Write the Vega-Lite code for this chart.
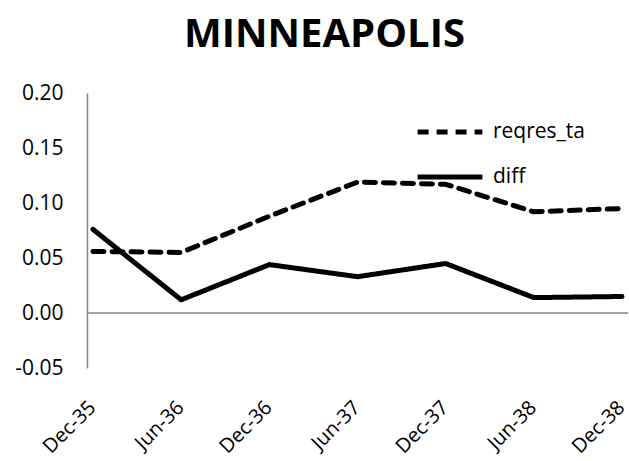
{
  "$schema": "https://vega.github.io/schema/vega-lite/v6.json",
  "width": 541,
  "height": 275,
  "autosize": {"type": "none"},
  "padding": {"left": 87, "top": 93, "right": 1, "bottom": 93},
  "background": "white",
  "config": {"view": {"stroke": null}, "font": "Open Sans"},
  "title": {"text": "MINNEAPOLIS", "fontSize": 40, "fontWeight": "bold", "font": "Open Sans", "color": "#000000", "anchor": "middle", "frame": "group", "offset": 27, "dx": -33},
  "data": {"values": [
    {"date": "Dec-35", "series": "reqres_ta", "value": 0.056},
    {"date": "Jun-36", "series": "reqres_ta", "value": 0.055},
    {"date": "Dec-36", "series": "reqres_ta", "value": 0.088},
    {"date": "Jun-37", "series": "reqres_ta", "value": 0.119},
    {"date": "Dec-37", "series": "reqres_ta", "value": 0.117},
    {"date": "Jun-38", "series": "reqres_ta", "value": 0.092},
    {"date": "Dec-38", "series": "reqres_ta", "value": 0.095},
    {"date": "Dec-35", "series": "diff", "value": 0.076},
    {"date": "Jun-36", "series": "diff", "value": 0.012},
    {"date": "Dec-36", "series": "diff", "value": 0.044},
    {"date": "Jun-37", "series": "diff", "value": 0.033},
    {"date": "Dec-37", "series": "diff", "value": 0.045},
    {"date": "Jun-38", "series": "diff", "value": 0.014},
    {"date": "Dec-38", "series": "diff", "value": 0.015}
  ]},
  "layer": [
    {
      "mark": {"type": "rule", "color": "#868686", "strokeWidth": 1.5},
      "data": {"values": [{"z": 0}]},
      "encoding": {"y": {"field": "z", "type": "quantitative", "scale": {"domain": [-0.05, 0.2]}}}
    },
    {
      "mark": {"type": "line", "strokeWidth": 5, "strokeCap": "round", "strokeJoin": "round", "color": "#000000"},
      "encoding": {
        "x": {"field": "date", "type": "ordinal", "sort": null,
              "scale": {"type": "point", "padding": 0.068},
              "axis": {"title": null, "labelAngle": -45, "labelFontSize": 20, "labelFont": "Open Sans", "labelColor": "#000000", "domain": false, "ticks": false, "labelPadding": 29, "labelOffset": -8, "labelBound": false}},
        "y": {"field": "value", "type": "quantitative",
              "scale": {"domain": [-0.05, 0.2], "nice": false, "zero": false},
              "axis": {"title": null, "values": [-0.05, 0, 0.05, 0.1, 0.15, 0.2], "format": ".2f", "labelExpr": "replace(datum.label, '\u2212', '-')", "labelFontSize": 21, "labelFont": "Open Sans", "labelColor": "#000000", "grid": false, "ticks": false, "domainColor": "#868686", "domainWidth": 1.5, "labelPadding": 24}},
        "strokeDash": {"field": "series", "type": "nominal",
              "scale": {"domain": ["reqres_ta", "diff"], "range": [[11, 8], [1, 0]]},
              "legend": {"title": null, "orient": "none", "legendX": 328, "legendY": 4, "symbolType": "stroke", "symbolSize": 4200, "symbolStrokeWidth": 5, "symbolStrokeColor": "#000000", "labelFontSize": 21, "labelFont": "Open Sans", "labelColor": "#000000", "rowPadding": -14, "labelOffset": 8}}
      }
    }
  ]
}
